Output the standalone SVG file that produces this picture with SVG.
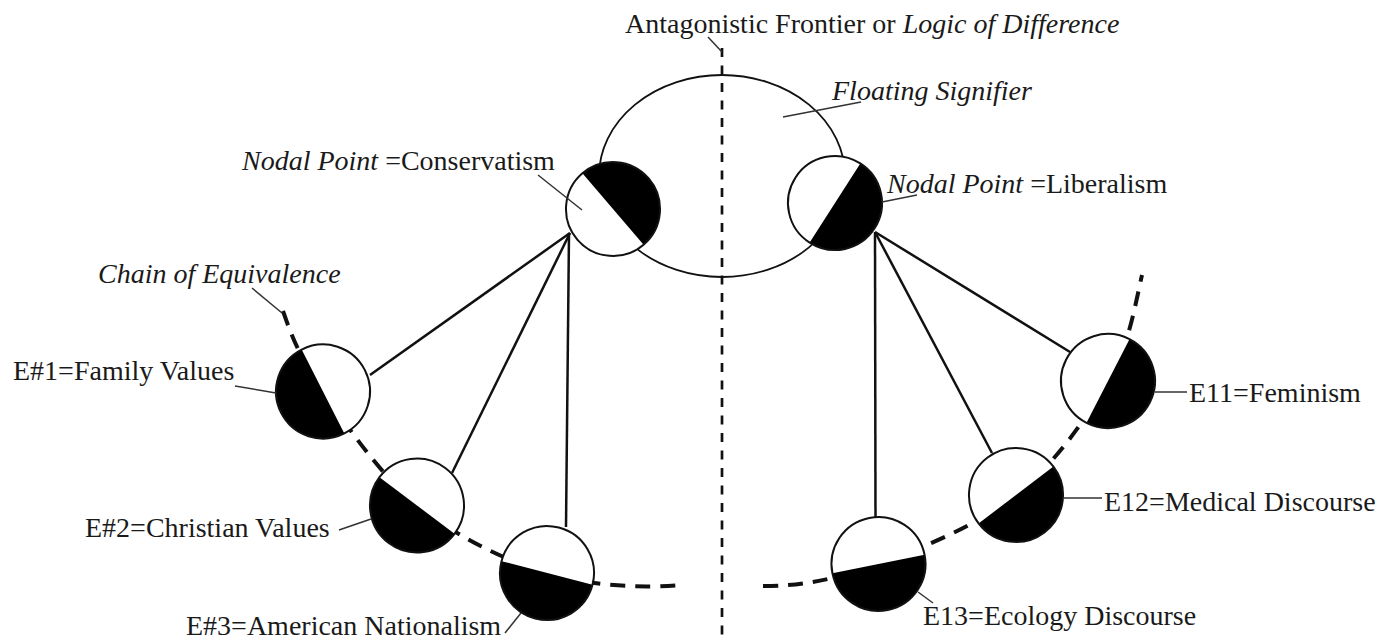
<svg xmlns="http://www.w3.org/2000/svg" width="1385" height="643" viewBox="0 0 1385 643">
<style>
.t{font-family:"Liberation Serif","Times New Roman",serif;font-size:28px;fill:#1a1a1a}
.i{font-style:italic}
.w{fill:#fff}
.b{fill:#000}
.o{fill:none;stroke:#111;stroke-width:2}
.spoke{stroke:#111;stroke-width:2.5;fill:none}
.lead{stroke:#333;stroke-width:1.5;fill:none}
.chain{stroke:#111;stroke-width:4;stroke-dasharray:15 10;fill:none}
.front{stroke:#111;stroke-width:2.7;stroke-dasharray:9 8.5;fill:none}
</style>
<rect width="1385" height="643" fill="#fff"/>
<defs>
<g id="half">
<circle class="w" r="47"/>
<path class="b" d="M-47,0A47,47 0 0 0 47,0Z"/>
<circle class="o" r="47"/>
</g>
</defs>

<g id="frontier">
<line class="front" x1="722" y1="48" x2="722" y2="643"/>
<line class="lead" x1="708" y1="37" x2="722" y2="52"/>
<text class="t" x="625" y="33">Antagonistic Frontier or <tspan class="i">Logic of Difference</tspan></text>
</g>

<g id="floating-signifier">
<ellipse cx="722" cy="176" rx="123" ry="101" fill="none" stroke="#111" stroke-width="1.8"/>
<line class="lead" x1="783" y1="117" x2="861" y2="102"/>
<text class="t i" x="832" y="100">Floating Signifier</text>
</g>

<g id="chains">
<path class="chain" d="M283,311 C293,340 300.7,358.5 323,391 C345.3,423.5 379.7,474.7 417,505 C454.3,535.3 502.7,559.7 547,573 C591.3,586.3 639.7,588.3 683,585"/>
<path class="chain" d="M763,586 C803,586 835.8,579.2 878,564 C920.2,548.8 977.7,525.5 1016,495 C1054.3,464.5 1087,417.7 1108,381 C1129,344.3 1133.7,311.7 1142,275"/>
<line class="lead" x1="252" y1="288" x2="282" y2="313"/>
<text class="t i" x="98" y="283">Chain of Equivalence</text>
</g>

<g id="connectors">
<line class="spoke" x1="570" y1="233" x2="370" y2="375"/>
<line class="spoke" x1="570" y1="233" x2="452" y2="473"/>
<line class="spoke" x1="569" y1="233" x2="566" y2="527"/>
<line class="spoke" x1="875" y1="232" x2="875.5" y2="517"/>
<line class="spoke" x1="875" y1="232" x2="992" y2="453"/>
<line class="spoke" x1="875" y1="232" x2="1070" y2="352"/>
</g>

<g id="nodal-conservatism">
<use href="#half" transform="translate(613,209) rotate(229.4)"/>
<line class="lead" x1="538" y1="175" x2="582" y2="210"/>
<text class="t" x="242" y="170"><tspan class="i">Nodal Point </tspan>=Conservatism</text>
</g>

<g id="nodal-liberalism">
<use href="#half" transform="translate(835,203) rotate(-57.4)"/>
<line class="lead" x1="882" y1="202" x2="917" y2="195"/>
<text class="t" x="887" y="193"><tspan class="i">Nodal Point </tspan>=Liberalism</text>
</g>

<g id="e1">
<use href="#half" transform="translate(323,391.5) rotate(63)"/>
<line class="lead" x1="235" y1="386" x2="276" y2="393"/>
<text class="t" x="13" y="380">E#1=Family Values</text>
</g>

<g id="e2">
<use href="#half" transform="translate(417,505.5) rotate(37)"/>
<line class="lead" x1="339" y1="530" x2="371" y2="519"/>
<text class="t" x="85" y="537">E#2=Christian Values</text>
</g>

<g id="e3">
<use href="#half" transform="translate(547,573) rotate(14.6)"/>
<line class="lead" x1="505" y1="633" x2="521" y2="613"/>
<text class="t" x="186" y="635">E#3=American Nationalism</text>
</g>

<g id="e11">
<use href="#half" transform="translate(1108,381) rotate(-62.8)"/>
<line class="lead" x1="1155" y1="392" x2="1187" y2="392"/>
<text class="t" x="1189" y="402">E11=Feminism</text>
</g>

<g id="e12">
<use href="#half" transform="translate(1016,495) rotate(-37.2)"/>
<line class="lead" x1="1063" y1="498" x2="1102" y2="498"/>
<text class="t" x="1104" y="511">E12=Medical Discourse</text>
</g>

<g id="e13">
<use href="#half" transform="translate(878.5,564) rotate(-11.4)"/>
<line class="lead" x1="918" y1="592" x2="933" y2="603"/>
<text class="t" x="923" y="625">E13=Ecology Discourse</text>
</g>
</svg>
